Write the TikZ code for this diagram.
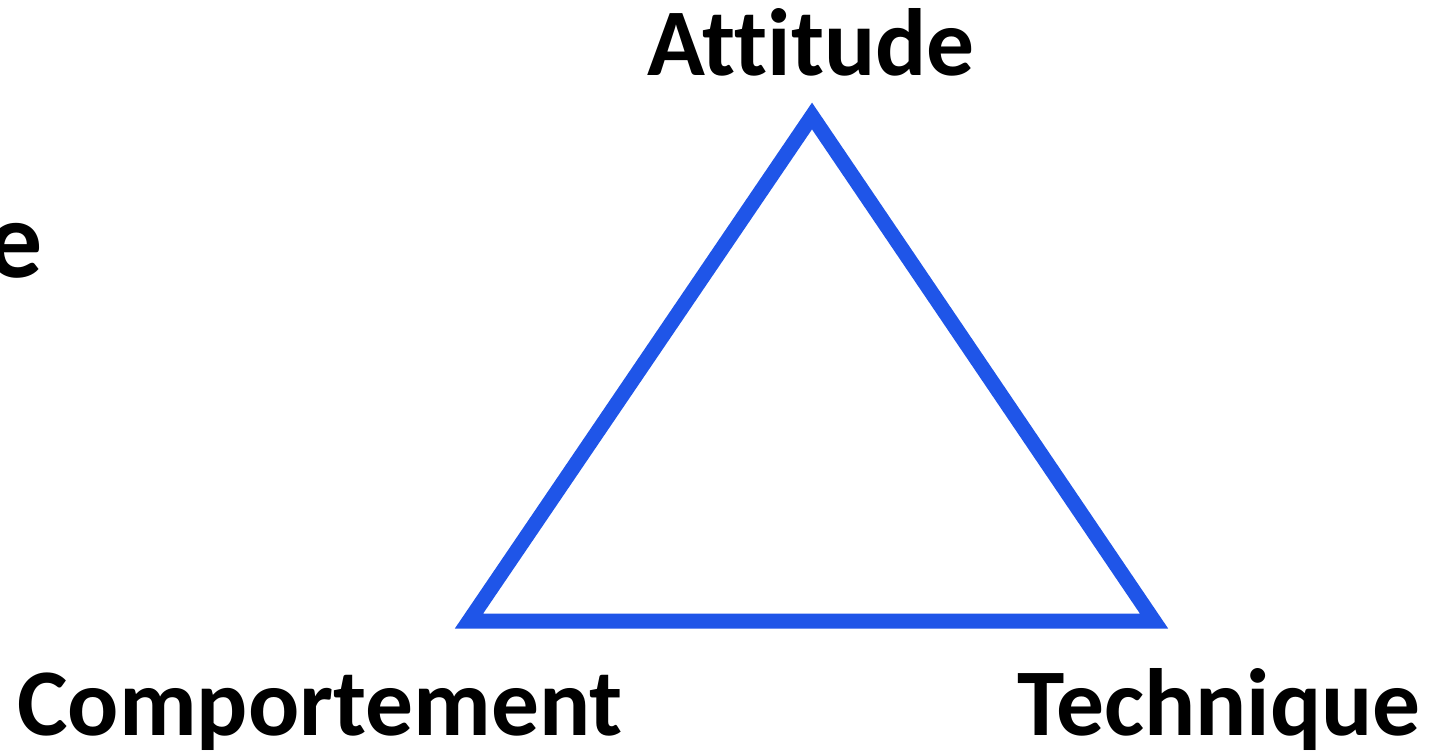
\documentclass[tikz,border=0pt]{standalone}
\usepackage{fontspec}
\setmainfont{Carlito}[Ligatures=NoCommon]
\definecolor{triblue}{RGB}{31,85,232}
\begin{document}
\begin{tikzpicture}[x=1pt, y=-1pt,
    lbl/.style={font=\fontsize{95.5}{100}\selectfont\bfseries, inner sep=0pt, anchor=base}]
        % Page frame
        \useasboundingbox (0,0) rectangle (1450,750);

        % Triangle corners
        \coordinate (top) at (812,116);
        \coordinate (left) at (469,621);
        \coordinate (right) at (1154,621);
        \draw[triblue, line width=15pt, line join=miter] (top) -- (left) -- (right) -- cycle;

        % Corner labels
        \node[lbl] (att) at (811,75) {Attitude};
        \node[lbl] (comp) at (320,735) {Comportement};
        \node[lbl] (tech) at (1219,735) {Technique};

        % Left over letter at the edge
        \node[lbl, font=\fontsize{110}{112}\selectfont\bfseries, anchor=base east] (rest) at (43,277) {e};
    \end{tikzpicture}
\end{document}
